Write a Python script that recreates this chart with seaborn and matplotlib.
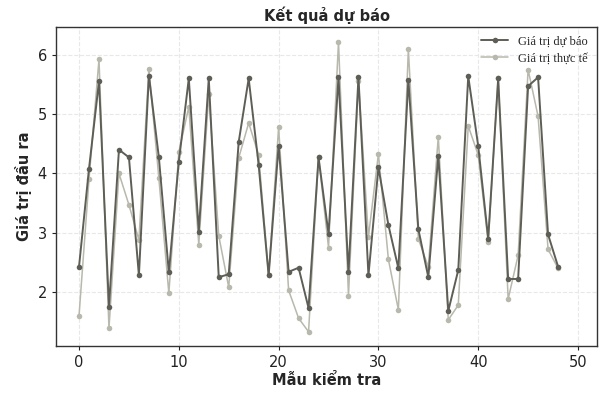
import numpy as np
import pandas as pd
import matplotlib
matplotlib.use("Agg")
import matplotlib.pyplot as plt
import seaborn as sns

samples = list(range(49))
predicted = [2.43, 4.08, 5.55, 1.75, 4.40, 4.27, 2.28, 5.65, 4.27, 2.33,
             4.20, 5.60, 3.02, 5.60, 2.25, 2.30, 4.53, 5.60, 4.14, 2.28,
             4.47, 2.34, 2.41, 1.73, 4.27, 2.98, 5.62, 2.33, 5.62, 2.28,
             4.10, 3.13, 2.40, 5.58, 3.06, 2.25, 4.30, 1.68, 2.37, 5.64,
             4.46, 2.90, 5.60, 2.22, 2.22, 5.47, 5.62, 2.97, 2.43]
actual = [1.60, 3.90, 5.92, 1.39, 4.00, 3.47, 2.88, 5.76, 3.92, 1.98,
          4.36, 5.12, 2.80, 5.33, 2.95, 2.08, 4.26, 4.85, 4.31, 2.28,
          4.78, 2.03, 1.56, 1.33, 4.28, 2.75, 6.22, 1.94, 5.55, 2.93,
          4.33, 2.55, 1.70, 6.10, 2.90, 2.42, 4.62, 1.53, 1.78, 4.80,
          4.31, 2.84, 5.60, 1.88, 2.62, 5.75, 4.96, 2.72, 2.40]

df = pd.DataFrame({"x": samples, "pred": predicted, "act": actual})

sns.set_style("white")
plt.rcParams['font.family'] = ['DejaVu Sans']

fig, ax = plt.subplots(figsize=(6.03, 3.95), dpi=100)
fig.subplots_adjust(left=0.093, right=0.99, top=0.932, bottom=0.124)

sns.lineplot(data=df, x="x", y="pred", ax=ax, color="#5e5e56", marker="o",
             markersize=4, linewidth=1.4, markeredgewidth=0, label="Giá trị dự báo",
             zorder=3)
sns.lineplot(data=df, x="x", y="act", ax=ax, color="#b8b8ac", marker="o",
             markersize=4, linewidth=1.1, markeredgewidth=0, label="Giá trị thực tế",
             zorder=2)

ax.set_xlim(-2.3, 51.9)
ax.set_ylim(1.09, 6.47)
ax.set_xticks([0, 10, 20, 30, 40, 50])
ax.set_yticks([2, 3, 4, 5, 6])
ax.grid(True, linestyle="--", color="#e8e8e8", linewidth=0.8)
for s in ax.spines.values():
    s.set_color("#333333")
    s.set_linewidth(1.0)
ax.tick_params(axis="both", labelsize=10.5, colors="#222222", length=3, direction="out", left=True, bottom=True)

ax.set_title("Kết quả dự báo", fontsize=10.5, fontweight="bold", pad=4)
ax.set_xlabel("Mẫu kiểm tra", fontsize=10.5, fontweight="bold", labelpad=2)
ax.set_ylabel("Giá trị đầu ra", fontsize=10.5, fontweight="bold", labelpad=4)

leg = ax.legend(loc="upper right", frameon=False, prop={"family": "Liberation Serif", "size": 9},
                handlelength=2.2, borderaxespad=0.3, labelspacing=0.4)

fig.savefig("out.png", dpi=100)
